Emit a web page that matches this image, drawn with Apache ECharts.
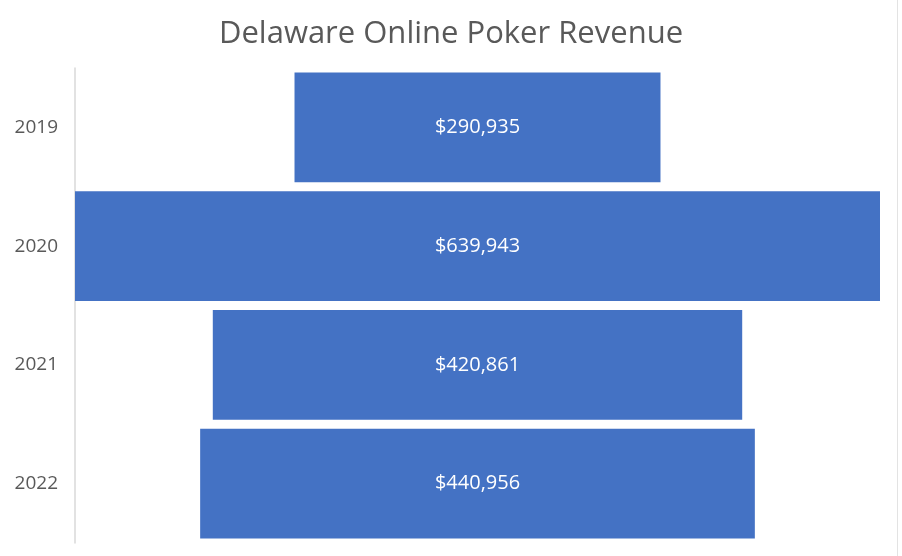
<!DOCTYPE html>
<html>
<head>
<meta charset="utf-8">
<script src="https://cdn.jsdelivr.net/npm/echarts@6/dist/echarts.min.js"></script>
<style>
  html, body { margin: 0; padding: 0; background: #fff; }
  #chart { width: 902px; height: 556px; }
</style>
</head>
<body>
<div id="chart"></div>
<script>
var years = ['2019', '2020', '2021', '2022'];
var revenue = [290935, 639943, 420861, 440956];

var maxRevenue = Math.max.apply(null, revenue);
// invisible spacer so each bar sits centred like Excel's funnel
var spacer = revenue.map(function (v) { return (maxRevenue - v) / 2; });

var chart = echarts.init(document.getElementById('chart'));
chart.setOption({
  animation: false,
  title: {
    text: 'Delaware Online Poker Revenue',
    left: 'center',
    top: 14,
    textStyle: {
      fontFamily: 'Open Sans',
      fontSize: 31,
      fontWeight: 'normal',
      color: '#595959'
    }
  },
  // faint sheet gridline at the right edge of the screenshot
  graphic: [{
    type: 'line',
    shape: { x1: 897.5, y1: 0, x2: 897.5, y2: 556 },
    style: { stroke: '#e3e3e3', lineWidth: 1 },
    silent: true
  }],
  grid: { left: 75, right: 22, top: 68, bottom: 13 },
  xAxis: {
    type: 'value',
    min: 0,
    max: maxRevenue,
    show: false
  },
  yAxis: {
    type: 'category',
    inverse: true,
    data: years,
    axisLine: { lineStyle: { color: '#d9d9d9', width: 1.5 } },
    axisTick: { show: false },
    axisLabel: {
      margin: 17,
      fontFamily: 'Open Sans',
      fontSize: 19,
      color: '#595959'
    }
  },
  series: [
    {
      type: 'bar',
      stack: 'funnel',
      data: spacer,
      itemStyle: { color: 'transparent' },
      silent: true,
      barCategoryGap: '7.5%'
    },
    {
      type: 'bar',
      stack: 'funnel',
      data: revenue,
      barCategoryGap: '7.5%',
      itemStyle: { color: '#4472C4' },
      label: {
        show: true,
        position: 'inside',
        fontFamily: 'Open Sans',
        fontSize: 20,
        color: '#ffffff',
        formatter: function (p) {
          return '$' + p.value.toLocaleString('en-US');
        }
      }
    }
  ]
});
</script>
</body>
</html>
